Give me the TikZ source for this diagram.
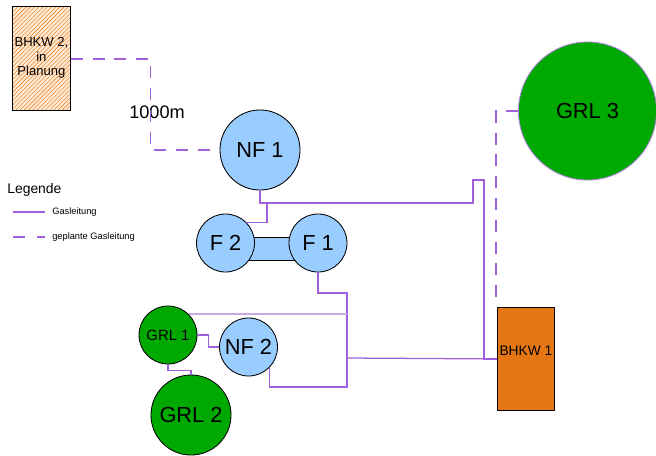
\documentclass[tikz,border=0pt]{standalone}
\usepackage{fontspec}
\setmainfont{Liberation Sans}
\usetikzlibrary{patterns,positioning}
\definecolor{gasline}{HTML}{A060DC}
\definecolor{gaslight}{HTML}{C8A8E6}
\definecolor{nfblue}{HTML}{99CCFF}
\definecolor{grlgreen}{HTML}{00A900}
\definecolor{bhkworange}{HTML}{E47713}
\definecolor{hatchorange}{HTML}{F08A30}
\tikzset{
  tank/.style={circle, draw=black, line width=0.6pt, fill=#1, inner sep=0pt,
               font=\fontsize{15.5}{18}\selectfont},
  plant/.style={rectangle, draw=black, line width=0.6pt, inner sep=0pt,
                font=\fontsize{9.3}{10.3}\selectfont},
  gas/.style={draw=gasline, line width=0.9pt},
  gasplan/.style={gas, dash pattern=on 8.5pt off 7pt},
  legtext/.style={anchor=west, inner sep=0pt, font=\fontsize{6.6}{8}\selectfont},
}

\begin{document}
\begin{tikzpicture}[x=0.025cm, y=-0.025cm]
  \useasboundingbox (0,0) rectangle (656,455);
  % anlagen
  \node[plant, minimum width=1.45cm, minimum height=2.6cm, anchor=north west,
        preaction={fill=orange!15}, pattern=north east lines, pattern color=hatchorange]
        (bhkw2) at (12,6)
        {\raisebox{0.33cm}{\begin{tabular}{@{}c@{}}BHKW 2,\\in\\Planung\end{tabular}}};
  \node[plant, fill=bhkworange, minimum width=1.425cm, minimum height=2.575cm,
        anchor=north west, font=\fontsize{9.8}{11}\selectfont] (bhkw1) at (497,307) {\raisebox{0.4cm}{BHKW 1}};
  % speicher
  \node[draw=black, line width=0.6pt, fill=nfblue, minimum width=1.375cm,
        minimum height=0.575cm, inner sep=0pt] (fbridge) at (272,248.5) {};
  \node[tank=nfblue, minimum size=2cm] (nf1) at (260,150) {NF 1};
  \node[tank=nfblue, minimum size=1.45cm] (f2) at (225.5,243) {F 2};
  \node[tank=nfblue, minimum size=1.45cm] (f1) at (318,243) {F 1};
  \node[tank=nfblue, minimum size=1.45cm] (nf2) at (248.5,347) {NF 2};
  \node[tank=grlgreen, minimum size=1.45cm, font=\fontsize{10.6}{12}\selectfont] (grl1) at (168,335) {GRL 1};
  \node[tank=grlgreen, minimum size=2cm] (grl2) at (191,415) {GRL 2};
  \node[tank=grlgreen, draw=gasline!80, minimum size=3.45cm] (grl3) at (587.5,111) {GRL 3};
  \node[font=\fontsize{12.9}{15}\selectfont] (dist) at (157,112) {1000m};
  \coordinate (bus) at (347,358);
  % leitungen
  \draw[gasplan] (bhkw2.east |- 0,59) -- ++(80,0) |- (nf1.west);
  \draw[gas] (nf1.south) |- (473,203) |- (484,180) |- (bhkw1.west);
  \draw[gas] (f2.north east) -| (267,203);
  \draw[gas] (f1.south) |- (347,293) -- (347,387) -| (nf2.south east);
  \draw[gas] (bus) -- (bhkw1.west);
  \draw[draw=gaslight, line width=1.2pt] (grl1.north east) -- (grl1.north east -| bus);
  \draw[gas] (grl1.east) -- ++(11,0) |- (nf2.west);
  \draw[gas] (grl1.south) -- ++(0,6) -| (grl2.north);
  \draw[gasplan] (grl3.west) -- ++(-22,0) |- (484,296);
  % legende
  \node[anchor=west, inner sep=0pt, font=\fontsize{9.9}{12}\selectfont] (leg) at (7,190) {Legende};
  \draw[gas] (13,212) -- (45,212);
  \node[legtext] (legsolid) at (52,212) {Gasleitung};
  \draw[gas, dash pattern=on 8.5pt off 8.5pt] (13,237) -- (45,237);
  \node[legtext] (legplan) at (52,237) {geplante Gasleitung};
\end{tikzpicture}
\end{document}
